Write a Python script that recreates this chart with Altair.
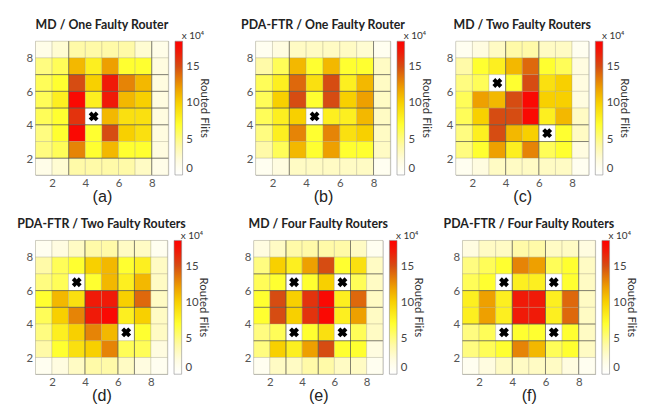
import altair as alt
import pandas as pd

TITLES = [
    "MD / One Faulty Router",
    "PDA-FTR / One Faulty Router",
    "MD / Two Faulty Routers",
    "PDA-FTR / Two Faulty Routers",
    "MD / Four Faulty Routers",
    "PDA-FTR / Four Faulty Routers",
]
CAPTIONS = ["(a)", "(b)", "(c)", "(d)", "(e)", "(f)"]
TICKS = [2, 4, 6, 8]
LEGEND_TICKS = [0, 5, 10, 15]
LEGEND_TITLE = "Routed Flits"
LEGEND_UNIT = "x 10⁴"

# Routed flits (x 10^4); rows from y = 8 (top) down to y = 1, columns x = 1..8
GRID_A = [
    [1.5, 2.5, 4, 4, 4, 4, 2.5, 1.5],
    [5, 6, 11, 8, 12, 7, 7, 2],
    [6, 7, 15, 10, 17, 13, 11, 2],
    [6, 8, 18, 8, 17, 11, 10, 2],
    [6, 7, 16, 0, 11, 9, 9, 2],
    [5, 7, 18, 7, 15, 10, 9, 2],
    [5, 6, 13, 7, 11, 7, 7, 2],
    [1.5, 2.5, 4, 4, 4, 4, 3, 1.5],
]
GRID_B = [
    [1, 2, 3, 3, 3, 3, 2.5, 1],
    [4, 6, 11, 7, 11, 7, 7, 3],
    [6, 8, 14, 9, 15, 8, 11, 3],
    [6, 10, 15, 7, 15, 10, 12, 3],
    [6, 8, 10, 0, 8, 8, 11, 3],
    [5, 8, 13, 7, 13, 9, 10, 3],
    [4, 6, 11, 7, 12, 7, 7, 3],
    [1, 2, 3, 3, 3, 3, 3, 1],
]
GRID_C = [
    [1, 2, 3, 4, 4, 3, 3, 1],
    [4, 7, 8, 11, 14, 7, 6, 2],
    [5, 6, 0, 7, 15, 9, 10, 2],
    [6, 12, 11, 15, 18, 10, 10, 2],
    [6, 10, 15, 15, 18, 8, 11, 3],
    [5, 8, 15, 11, 10, 0, 7, 3],
    [5, 7, 12, 8, 13, 6, 7, 2],
    [1, 2, 3, 3, 3, 3, 3, 1],
]
GRID_D = [
    [1, 2, 3, 4, 4, 3, 3, 1],
    [4, 6, 7, 10, 11, 7, 8, 3],
    [5, 6, 0, 7, 11, 8, 11, 3],
    [7, 11, 9, 17, 17, 10, 14, 3],
    [6, 10, 13, 17, 18, 8, 10, 3],
    [5, 8, 10, 13, 11, 0, 7, 3],
    [4, 7, 9, 10, 13, 6, 6, 2],
    [1, 2, 3, 4, 4, 3, 2, 1],
]
GRID_E = [
    [2, 3, 4, 4, 4, 4, 3, 1],
    [5, 10, 8, 12, 15, 7, 9, 3],
    [6, 7, 0, 7, 10, 0, 6, 3],
    [7, 15, 10, 16, 18, 8, 14, 3],
    [7, 15, 10, 16, 18, 8, 12, 3],
    [5, 6, 0, 7, 9, 0, 6, 3],
    [5, 10, 8, 12, 15, 7, 7, 2],
    [1, 3, 3, 4, 4, 3, 3, 1],
]
GRID_F = [
    [2, 3, 3, 4, 4, 3, 3, 2],
    [5, 6, 7, 13, 12, 6, 7, 3],
    [6, 7, 0, 8, 8, 0, 7, 3],
    [8, 12, 8, 17, 17, 8, 14, 3],
    [8, 12, 8, 17, 17, 8, 14, 3],
    [5, 6, 0, 7, 7, 0, 7, 3],
    [5, 6, 7, 13, 11, 6, 7, 3],
    [1, 2, 3, 3, 3, 3, 2, 1],
]
GRIDS = [GRID_A, GRID_B, GRID_C, GRID_D, GRID_E, GRID_F]

# faulty routers (cell x, cell y)
FAULTY = [
    [(4, 4)],
    [(4, 4)],
    [(3, 6), (6, 3)],
    [(3, 6), (6, 3)],
    [(3, 6), (6, 6), (3, 3), (6, 3)],
    [(3, 6), (6, 6), (3, 3), (6, 3)],
]

# darker cell borders visible in each panel
DARK_V = [[3, 8], [3, 8], [4, 6], [4, 6, 7], [3, 5, 7], [4, 6, 8]]
DARK_H = [[2, 4, 5, 6, 7], [4, 5, 6, 7], [3, 4], [5, 6], [3, 5, 6, 7], [3, 4, 6]]

PANEL_W = [140, 142, 140, 139, 136, 140]
PANEL_H = 141

COLOR_DOMAIN = [0, 2, 4, 7, 10, 12, 15, 17, 18.5]
COLOR_RANGE = ["#ffffff", "#fffce0", "#fffaa8", "#ffff30", "#f8d000",
               "#eea000", "#d64c12", "#f01a08", "#ff0000"]


def heat_df(grid):
    rows = []
    for r, row in enumerate(grid):
        y = 8 - r
        for c, v in enumerate(row):
            x = c + 1
            rows.append({"x": x, "x2": x + 1, "y": y, "y2": y + 1, "v": v})
    return pd.DataFrame(rows)


def lines_df(vs, hs):
    rows = []
    for v in vs:
        rows.append({"x": v, "x2": v, "y": 1, "y2": 9})
    for h in hs:
        rows.append({"x": 1, "x2": 9, "y": h, "y2": h})
    return pd.DataFrame(rows)


def panel(i):
    w = PANEL_W[i]
    xenc = alt.X("x:Q", scale=alt.Scale(domain=[1, 9], nice=False, zero=False),
                 axis=alt.Axis(values=TICKS, title=CAPTIONS[i]))
    yenc = alt.Y("y:Q", scale=alt.Scale(domain=[1, 9], nice=False, zero=False),
                 axis=alt.Axis(values=TICKS, title=None))
    heat = alt.Chart(heat_df(GRIDS[i])).mark_rect(
        stroke="#a09c80", strokeWidth=0.5, strokeOpacity=0.6
    ).encode(
        x=xenc, x2="x2:Q", y=yenc, y2="y2:Q",
        color=alt.Color(
            "v:Q",
            scale=alt.Scale(domain=COLOR_DOMAIN, range=COLOR_RANGE, interpolate="rgb"),
            legend=alt.Legend(
                title=None,
                gradientLength=PANEL_H, gradientThickness=8,
                gradientStrokeColor="#888", gradientStrokeWidth=0.6,
                values=LEGEND_TICKS, labelFont="Lato", labelFontSize=12,
                labelColor="#444", labelOffset=4,
                offset=7, padding=0, direction="vertical", orient="right",
            ),
        ),
    )
    rules = alt.Chart(lines_df(DARK_V[i], DARK_H[i])).mark_rule(
        color="#333333", strokeWidth=1, opacity=0.55
    ).encode(x=xenc, x2="x2:Q", y=yenc, y2="y2:Q")
    fdf = pd.DataFrame({"x": [fx + 0.5 for fx, fy in FAULTY[i]],
                        "y": [fy + 0.5 for fx, fy in FAULTY[i]]})
    faults = alt.Chart(fdf).mark_point(
        shape="cross", angle=45, filled=True, color="black", size=110, opacity=1
    ).encode(x=xenc, y=yenc)
    unit = alt.Chart(pd.DataFrame({"t": [LEGEND_UNIT]})).mark_text(
        align="left", baseline="bottom", font="Lato", fontSize=10.5, color="#333"
    ).encode(x=alt.value(w + 14), y=alt.value(0), text="t:N")
    ltitle = alt.Chart(pd.DataFrame({"t": [LEGEND_TITLE]})).mark_text(
        align="center", baseline="middle", angle=90, font="Lato", fontSize=12,
        color="#333"
    ).encode(x=alt.value(w + 38), y=alt.value(PANEL_H / 2), text="t:N")
    return alt.layer(heat, rules, faults, unit, ltitle).properties(
        width=w, height=PANEL_H,
        title=alt.TitleParams(TITLES[i], font="Lato", fontSize=13, fontWeight="bold",
                              color="#222", anchor="middle", frame="group", offset=0),
    )


def row(i0, s1, s2):
    left = alt.hconcat(panel(i0), panel(i0 + 1), spacing=s1).resolve_scale(
        color="independent").resolve_legend(color="independent")
    return alt.hconcat(left, panel(i0 + 2), spacing=s2).resolve_scale(
        color="independent").resolve_legend(color="independent")


chart = alt.vconcat(row(0, 31, 13), row(3, 35, 18), spacing=13).resolve_scale(
    color="independent").resolve_legend(color="independent").properties(
    padding={"left": 8, "top": 0, "right": 0, "bottom": 0},
    background="white",
).configure_view(stroke="#999", strokeWidth=0.8).configure_axis(
    grid=False, ticks=False, domain=False, labelPadding=3, minExtent=0,
    labelFont="Lato", labelFontSize=12, labelColor="#555",
    titleFont="Liberation Sans", titleFontSize=17, titleFontWeight="normal",
    titleColor="#222", titlePadding=1,
)

chart.save("out.html", embed_options={"renderer": "svg", "actions": False})
